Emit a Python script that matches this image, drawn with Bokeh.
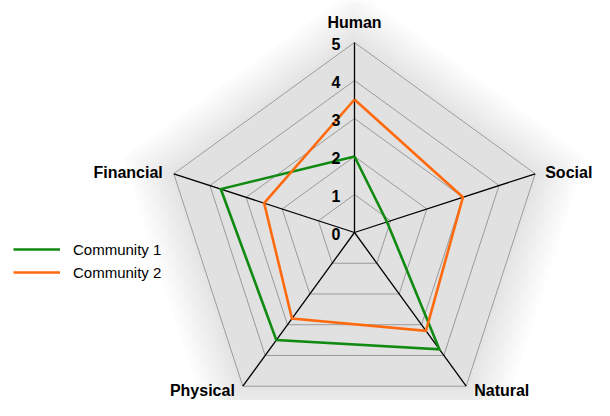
import math
from bokeh.plotting import figure
from bokeh.models import Range1d, Legend, LegendItem
from bokeh.core.properties import value
from bokeh.embed import file_html
from bokeh.resources import INLINE

# ---- data ----
categories = ["Human", "Social", "Natural", "Physical", "Financial"]
community1 = [2.0, 0.9, 3.8, 3.5, 3.7]
community2 = [3.5, 3.0, 3.2, 2.8, 2.5]
tick_values = [0, 1, 2, 3, 4, 5]
tick_labels = ["0", "1", "2", "3", "4", "5"]
series_names = ["Community 1", "Community 2"]

# ---- geometry / style ----
W, H = 594, 400
CX, CY = 354, 232          # centre in plot pixels (from top-left)
S = 38.0                   # pixels per unit
RMAX = 5
FONT = "Liberation Sans"

angles = [math.radians(90 - 72 * i) for i in range(len(categories))]

def polar(vals):
    xs = [v * math.cos(a) for v, a in zip(vals, angles)]
    ys = [v * math.sin(a) for v, a in zip(vals, angles)]
    return xs + xs[:1], ys + ys[:1]

p = figure(width=W, height=H, output_backend="svg", toolbar_location=None,
           x_range=Range1d(-CX / S, (W - CX) / S),
           y_range=Range1d(-(H - CY) / S, CY / S),
           min_border=0, outline_line_color=None)
p.axis.visible = False
p.grid.visible = False
p.background_fill_color = "white"
p.border_fill_color = "white"

# soft shadow glow behind the chart
for k in range(10):
    r = RMAX + 1.4 - k * 0.16
    xs, ys = polar([r] * len(categories))
    p.patch(xs, ys, fill_color="#7a7a7a", fill_alpha=0.018, line_color=None)

# grid rings
for t in tick_values[1:]:
    xs, ys = polar([t] * len(categories))
    p.line(xs, ys, line_color="#9a9a9a", line_width=1)

# spokes
for a in angles:
    p.line([0, RMAX * math.cos(a)], [0, RMAX * math.sin(a)], line_color="black", line_width=1.3)

# series
x1, y1 = polar(community1)
x2, y2 = polar(community2)
r1 = p.line(x1, y1, line_color="#118a11", line_width=2.6, line_join="miter")
r2 = p.line(x2, y2, line_color="#ff6a0e", line_width=2.6, line_join="miter")

# tick labels along Human axis
p.text(x=[0] * len(tick_values), y=tick_values, text=tick_labels,
       text_align="right", text_baseline="middle", x_offset=-14, y_offset=1,
       text_font=value(FONT), text_font_style="bold", text_font_size="16px",
       text_color="black")

# category labels
ex = [RMAX * math.cos(a) for a in angles]
ey = [RMAX * math.sin(a) for a in angles]
aligns = ["center", "left", "left", "right", "right"]
xoffs = [0, 10, 8, -8, -11]
yoffs = [-20, -1, 4, 4, -1]
for i in range(len(categories)):
    p.text(x=[ex[i]], y=[ey[i]], text=[categories[i]], text_align=aligns[i],
           text_baseline="middle", x_offset=xoffs[i], y_offset=yoffs[i],
           text_font=value(FONT), text_font_style="bold", text_font_size="16px",
           text_color="black")

legend = Legend(items=[LegendItem(label=series_names[0], renderers=[r1]),
                       LegendItem(label=series_names[1], renderers=[r2])],
                location=(13, 118), glyph_width=47, glyph_height=20, spacing=3,
                label_standoff=13, padding=0, margin=0,
                border_line_color=None, background_fill_alpha=0,
                label_text_font=FONT, label_text_font_size="15px",
                label_text_color="black")
p.add_layout(legend)

open("out.html", "w").write(file_html(p, INLINE))
